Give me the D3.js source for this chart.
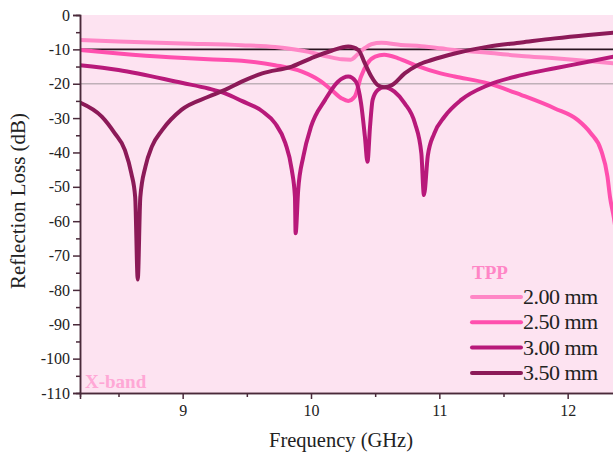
<!DOCTYPE html>
<html>
<head>
<meta charset="utf-8">
<script src="https://cdn.jsdelivr.net/npm/d3@7/dist/d3.min.js"></script>
<style>
  body { margin: 0; background: #fff; }
  .axis path, .axis line { stroke: #4a2a3a; stroke-width: 1.5px; }
  .axis text { font-family: 'Liberation Serif', serif; font-size: 16px; fill: #222; }
</style>
</head>
<body>
<div id="chart"></div>
<script>

var width = 613;
var height = 457;

var marginLeft = 80;
var marginRight = 619;
var marginTop = 15;
var marginBottom = 393;

// dati (GHz, dB)
var freq200 = [8.20, 8.50, 9.00, 9.46, 9.72, 9.98, 10.13, 10.24, 10.31, 10.37, 10.42, 10.47, 10.55, 10.70, 10.86, 11.01, 11.12, 11.38, 11.64, 11.90, 12.16, 12.40];
var rl200   = [-7.3, -7.7, -8.3, -8.8, -9.3, -10.7, -12.1, -12.9, -13.0, -11.2, -9.6, -8.5, -8.1, -8.7, -9.1, -9.7, -10.2, -11.0, -11.9, -12.6, -13.4, -14.2];

var freq250 = [8.20, 8.50, 8.90, 9.20, 9.46, 9.72, 9.93, 10.06, 10.16, 10.24, 10.29, 10.34, 10.39, 10.44, 10.50, 10.57, 10.68, 10.81, 11.01, 11.12, 11.38, 11.64, 11.90, 12.08, 12.18, 12.26, 12.31, 12.33, 12.36, 12.38];
var rl250   = [-10.2, -11.2, -12.3, -12.9, -13.3, -14.6, -16.5, -18.9, -21.8, -24.3, -25.0, -23.8, -17.9, -14.1, -12.1, -11.6, -12.6, -14.6, -17.0, -17.9, -19.9, -23.3, -27.2, -30.6, -34.4, -39.3, -47.0, -53.0, -59.0, -64.0];

var freq300 = [8.20, 8.50, 9.00, 9.20, 9.33, 9.46, 9.62, 9.72, 9.80, 9.85, 9.875, 9.88, 9.90, 9.94, 10.00, 10.11, 10.21, 10.29, 10.35, 10.39, 10.42, 10.44, 10.46, 10.48, 10.52, 10.57, 10.65, 10.73, 10.81, 10.86, 10.88, 10.91, 10.96, 11.04, 11.17, 11.38, 11.64, 11.90, 12.16, 12.40];
var rl300   = [-14.6, -16.0, -19.8, -21.4, -22.8, -25.0, -28.0, -31.5, -37.3, -45.0, -53.0, -63.5, -51.0, -41.2, -32.5, -24.7, -19.4, -17.9, -19.4, -25.7, -35.4, -42.7, -32.5, -24.7, -21.8, -21.0, -22.3, -25.7, -31.5, -40.3, -52.4, -41.0, -34.5, -29.6, -24.7, -20.4, -17.5, -15.5, -13.6, -11.8];

var freq350 = [8.20, 8.37, 8.47, 8.55, 8.60, 8.63, 8.65, 8.67, 8.71, 8.76, 8.84, 8.99, 9.20, 9.33, 9.46, 9.62, 9.85, 10.00, 10.16, 10.29, 10.37, 10.42, 10.47, 10.52, 10.57, 10.63, 10.73, 10.83, 10.94, 11.12, 11.38, 11.64, 11.90, 12.16, 12.40];
var rl350   = [-25.5, -29.6, -34.4, -39.3, -46.1, -53.0, -77.0, -53.0, -44.1, -38.3, -33.5, -27.6, -23.8, -21.8, -19.4, -17.0, -15.0, -12.6, -10.4, -9.2, -10.2, -14.1, -17.9, -20.4, -21.0, -20.4, -17.0, -14.6, -13.1, -11.2, -9.2, -8.0, -6.8, -5.8, -5.0];

var seriesNames = ['2.00 mm', '2.50 mm', '3.00 mm', '3.50 mm'];
var seriesColors = ['#ff86c6', '#ff4fae', '#b8197a', '#8c1a58'];

var xTicks = [9, 10, 11, 12];
var yTicks = [0, -10, -20, -30, -40, -50, -60, -70, -80, -90, -100, -110];
var refLines = [-10, -20];

var freqs = [freq200, freq250, freq300, freq350];
var rls = [rl200, rl250, rl300, rl350];

var series = seriesNames.map(function(n, i) {
	return freqs[i].map(function(f, j) { return {f: f, rl: rls[i][j]}; });
});

var svg = d3.select('#chart')
		.append('svg')
		.attr('width', width)
		.attr('height', height)
		.style('background-color', '#fff')

var x = d3.scaleLinear()
	.domain([8.2, 12.4])
	.range([marginLeft, marginRight]);

var y = d3.scaleLinear()
	.domain([-110, 0])
	.range([marginBottom, marginTop]);

// sfondo rosa
svg.append('rect')
	.attr('x', x(8.2))
	.attr('y', y(0))
	.attr('width', x(12.4) - x(8.2))
	.attr('height', y(-110) - y(0))
	.attr('fill', '#fde3f1')

svg.append('defs').append('clipPath')
	.attr('id', 'clip')
	.append('rect')
	.attr('x', x(8.2))
	.attr('y', y(0))
	.attr('width', x(12.4) - x(8.2))
	.attr('height', y(-110) - y(0))

// linee di riferimento
svg.selectAll('.ref')
	.data(refLines)
	.enter()
	.append('line')
	.attr('class', 'ref')
	.attr('x1', x(8.2))
	.attr('x2', x(12.4))
	.attr('y1', function(d) { return y(d) })
	.attr('y2', function(d) { return y(d) })
	.attr('stroke', function(d) { return d == -10 ? '#2a1420' : '#bfb0b8' })
	.attr('stroke-width', 1.6)

svg.append('text')
	.attr('x', 85)
	.attr('y', 388)
	.text('X-band')
	.style('fill', '#ffa8d6')
	.style('font-family', 'Liberation Serif, serif')
	.style('font-size', '19px')
	.style('font-weight', '700')

var line = d3.line()
	.curve(d3.curveMonotoneX)
	.x(function(d) { return x(d.f) })
	.y(function(d) { return y(d.rl) });

svg.append('g')
	.attr('clip-path', 'url(#clip)')
	.selectAll('.curve')
	.data(series)
	.enter()
	.append('path')
	.attr('class', 'curve')
	.attr('fill', 'none')
	.attr('stroke', function(d, i) { return seriesColors[i] })
	.attr('stroke-width', 4)
	.attr('stroke-linejoin', 'round')
	.attr('d', line)

// AXIS
var yAxis = d3.axisLeft(y)
	.tickValues(yTicks)
	.tickSize(7)
	.tickPadding(3)
	.tickFormat(function(d) { return String(d) });

svg.append('g')
	.attr('class', 'axis')
	.attr('transform', 'translate(' + marginLeft + ',0)')
	.call(yAxis)

svg.append('g')
	.attr('class', 'axis')
	.attr('transform', 'translate(' + marginLeft + ',0)')
	.call(d3.axisLeft(y).tickValues(d3.range(-105, 0, 10)).tickSize(4).tickFormat(''))

var xAxis = d3.axisBottom(x)
	.tickValues(xTicks)
	.tickSize(6)
	.tickPadding(6)
	.tickFormat(function(d) { return String(d) });

svg.append('g')
	.attr('class', 'axis')
	.attr('transform', 'translate(0,' + marginBottom + ')')
	.call(xAxis)

svg.append('g')
	.attr('class', 'axis')
	.attr('transform', 'translate(0,' + marginBottom + ')')
	.call(d3.axisBottom(x).tickValues([8.5, 9.5, 10.5, 11.5]).tickSize(4).tickFormat(''))

svg.selectAll('.axis .domain').attr('stroke', '#4a2a3a')

svg.append('text')
	.attr('x', 341)
	.attr('y', 447)
	.attr('text-anchor', 'middle')
	.text('Frequency (GHz)')
	.style('fill', '#222')
	.style('font-family', 'Liberation Serif, serif')
	.style('font-size', '20.5px')

svg.append('text')
	.attr('transform', 'translate(25,201) rotate(-90)')
	.attr('text-anchor', 'middle')
	.text('Reflection Loss (dB)')
	.style('fill', '#222')
	.style('font-family', 'Liberation Serif, serif')
	.style('font-size', '21px')

// legenda
svg.append('text')
	.attr('x', 472)
	.attr('y', 279)
	.text('TPP')
	.style('fill', '#ff86c6')
	.style('font-family', 'Liberation Serif, serif')
	.style('font-size', '19px')
	.style('font-weight', '700')

var legend = svg.selectAll('.legend')
	.data(seriesNames)
	.enter()
	.append('g')
	.attr('class', 'legend')
	.attr('transform', function(d, i) { return 'translate(472,' + (297 + i * 25.3) + ')' })

legend.append('line')
	.attr('x1', 0)
	.attr('x2', 49)
	.attr('stroke', function(d, i) { return seriesColors[i] })
	.attr('stroke-width', 4)
	.attr('stroke-linecap', 'round')

legend.append('text')
	.attr('x', 51)
	.attr('y', 7)
	.text(function(d) { return d })
	.style('fill', '#222')
	.style('font-family', 'Liberation Serif, serif')
	.style('font-size', '22px')
	.style('letter-spacing', '-0.5px')

</script>
</body>
</html>
